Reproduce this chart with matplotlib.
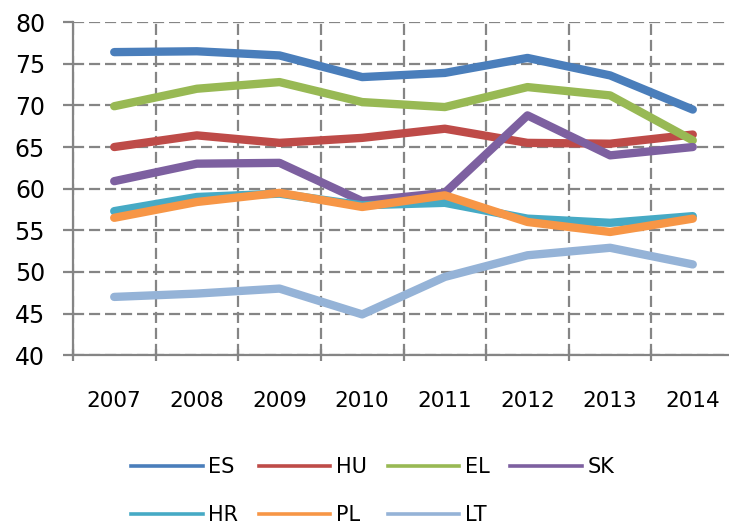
import matplotlib.pyplot as plt
from matplotlib.lines import Line2D

plt.rcParams['font.family'] = ['DejaVu Sans']

years = ['2007', '2008', '2009', '2010', '2011', '2012', '2013', '2014']
ES = [76.4, 76.5, 76.0, 73.4, 73.9, 75.7, 73.6, 69.5]
HU = [65.0, 66.4, 65.5, 66.1, 67.2, 65.5, 65.4, 66.5]
EL = [69.9, 72.0, 72.8, 70.4, 69.8, 72.2, 71.2, 65.8]
SK = [60.9, 63.0, 63.1, 58.5, 59.5, 68.8, 64.0, 65.0]
HR = [57.3, 59.0, 59.4, 58.0, 58.3, 56.4, 55.9, 56.7]
PL = [56.5, 58.4, 59.5, 57.8, 59.2, 56.0, 54.8, 56.4]
LT = [47.0, 47.4, 48.0, 44.9, 49.4, 52.0, 52.9, 50.9]

names = ['ES', 'HU', 'EL', 'SK', 'HR', 'PL', 'LT']
series = [ES, HU, EL, SK, HR, PL, LT]
colors = ['#4a7ebb', '#be4b48', '#98b954', '#7d60a0', '#46aac5', '#f79646', '#95b3d7']

fig = plt.figure(figsize=(7.29, 5.27), dpi=100)
ax = fig.add_axes([0.1, 0.326, 0.907, 0.632])

x = list(range(len(years)))
for s, c in zip(series, colors):
    ax.plot(x, s, color=c, lw=6, solid_capstyle='round', solid_joinstyle='round', zorder=3)

ax.set_xlim(-0.5, 7.5)
ax.set_ylim(40, 80)
ax.set_yticks(range(40, 81, 5))
ax.set_xticks(x)
ax.set_xticklabels(years)
ax.set_xticks([i - 0.5 for i in range(9)], minor=True)

grid_kw = dict(ls=(0, (5, 2.2)), color='#858585', lw=1.6)
ax.grid(True, axis='y', which='major', **grid_kw)
ax.grid(True, axis='x', which='minor', **grid_kw)
ax.tick_params(axis='x', which='major', length=0, pad=26, labelsize=15.5)
ax.tick_params(axis='x', which='minor', length=8, direction='inout', color='#858585', width=1.6)
ax.tick_params(axis='y', length=7, color='#858585', width=1.6, labelsize=17, pad=13)

for sp in ['top', 'right']:
    ax.spines[sp].set_visible(False)
for sp in ['left', 'bottom']:
    ax.spines[sp].set_color('#858585')
    ax.spines[sp].set_linewidth(1.6)

# legend filled row by row
order = [0, 4, 1, 5, 2, 6, 3]
handles = [Line2D([], [], color=colors[i], lw=2.6) for i in order]
labels = [names[i] for i in order]
fig.legend(handles, labels, loc='upper left', bbox_to_anchor=(0.165, 0.152),
           ncol=4, frameon=False, fontsize=15, handlelength=3.45, handletextpad=0.25,
           columnspacing=1.0, labelspacing=1.35, borderpad=0)

fig.savefig('out.png', dpi=100)
